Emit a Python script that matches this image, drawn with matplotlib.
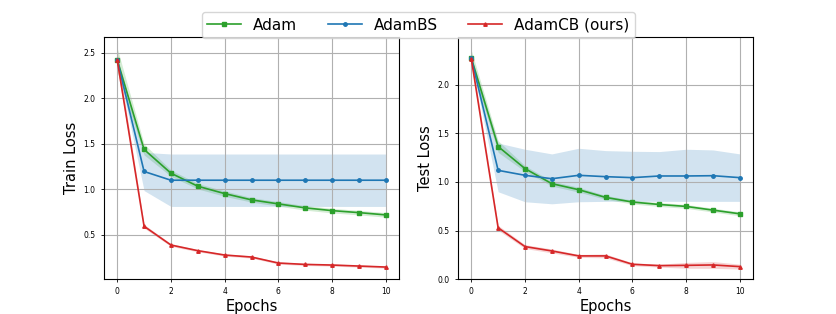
import numpy as np
import matplotlib
matplotlib.use("Agg")
import matplotlib.pyplot as plt

epochs = np.arange(11)

# train loss (mean, std)
train_adam = [2.42, 1.436, 1.175, 1.032, 0.951, 0.882, 0.838, 0.794, 0.764, 0.742, 0.717]
train_adam_std = [0.13, 0.06, 0.035, 0.03, 0.03, 0.025, 0.025, 0.025, 0.025, 0.025, 0.025]
train_bs = [2.42, 1.194, 1.098, 1.098, 1.098, 1.098, 1.098, 1.098, 1.098, 1.098, 1.098]
train_bs_std = [0.03, 0.21, 0.288, 0.288, 0.288, 0.288, 0.288, 0.288, 0.288, 0.288, 0.288]
train_cb = [2.42, 0.592, 0.386, 0.324, 0.276, 0.254, 0.188, 0.173, 0.166, 0.155, 0.144]
train_cb_std = [0.09, 0.02, 0.015, 0.012, 0.012, 0.012, 0.012, 0.012, 0.012, 0.012, 0.012]

# test loss (mean, std)
test_adam = [2.275, 1.364, 1.137, 0.982, 0.920, 0.841, 0.793, 0.768, 0.748, 0.710, 0.672]
test_adam_std = [0.08, 0.06, 0.03, 0.025, 0.025, 0.02, 0.02, 0.02, 0.02, 0.02, 0.02]
test_bs = [2.275, 1.119, 1.068, 1.033, 1.068, 1.054, 1.044, 1.061, 1.061, 1.064, 1.044]
test_bs_upper = [2.29, 1.40, 1.336, 1.288, 1.346, 1.322, 1.315, 1.312, 1.336, 1.329, 1.288]
test_bs_lower = [2.26, 0.899, 0.796, 0.775, 0.796, 0.80, 0.803, 0.80, 0.80, 0.80, 0.80]
test_cb = [2.268, 0.528, 0.335, 0.290, 0.239, 0.239, 0.153, 0.139, 0.142, 0.146, 0.129]
test_cb_std = [0.05, 0.025, 0.02, 0.02, 0.015, 0.02, 0.015, 0.015, 0.03, 0.035, 0.025]

c_adam = "tab:green"
c_bs = "tab:blue"
c_cb = "tab:red"

fig = plt.figure(figsize=(8.37, 3.14), dpi=100)
ax1 = fig.add_axes([0.124, 0.111, 0.353, 0.771])
ax2 = fig.add_axes([0.547, 0.111, 0.353, 0.771])


def draw(ax, adam, adam_lo, adam_hi, bs, bs_lo, bs_hi, cb, cb_lo, cb_hi, ylabel):
    h1, = ax.plot(epochs, adam, color=c_adam, marker="s", markersize=2.5, lw=1.2, label="Adam")
    ax.fill_between(epochs, adam_lo, adam_hi, color=c_adam, alpha=0.2, lw=0)
    h2, = ax.plot(epochs, bs, color=c_bs, marker="o", markersize=2.5, lw=1.2, label="AdamBS")
    ax.fill_between(epochs, bs_lo, bs_hi, color=c_bs, alpha=0.2, lw=0)
    h3, = ax.plot(epochs, cb, color=c_cb, marker="^", markersize=2.5, lw=1.2, label="AdamCB (ours)")
    ax.fill_between(epochs, cb_lo, cb_hi, color=c_cb, alpha=0.2, lw=0)
    ax.grid(True, lw=0.8)
    ax.set_xticks([0, 2, 4, 6, 8, 10])
    ax.tick_params(labelsize=5.5, length=2.5, width=0.6)
    ax.set_xlabel("Epochs", fontsize=10.5, labelpad=2)
    ax.set_ylabel(ylabel, fontsize=10.5, labelpad=3)
    return [h1, h2, h3]


a = np.array
handles = draw(ax1,
               train_adam, a(train_adam) - a(train_adam_std), a(train_adam) + a(train_adam_std),
               train_bs, a(train_bs) - a(train_bs_std), a(train_bs) + a(train_bs_std),
               train_cb, a(train_cb) - a(train_cb_std), a(train_cb) + a(train_cb_std),
               "Train Loss")
draw(ax2,
     test_adam, a(test_adam) - a(test_adam_std), a(test_adam) + a(test_adam_std),
     test_bs, test_bs_lower, test_bs_upper,
     test_cb, a(test_cb) - a(test_cb_std), a(test_cb) + a(test_cb_std),
     "Test Loss")
ax2.set_ylim(0.0, 2.49)

fig.legend(handles=handles, loc="upper center", bbox_to_anchor=(0.5, 0.985), ncol=3,
           fontsize=11, columnspacing=2.0, handlelength=2.2, borderpad=0.35)

fig.savefig("out.png", dpi=100)
